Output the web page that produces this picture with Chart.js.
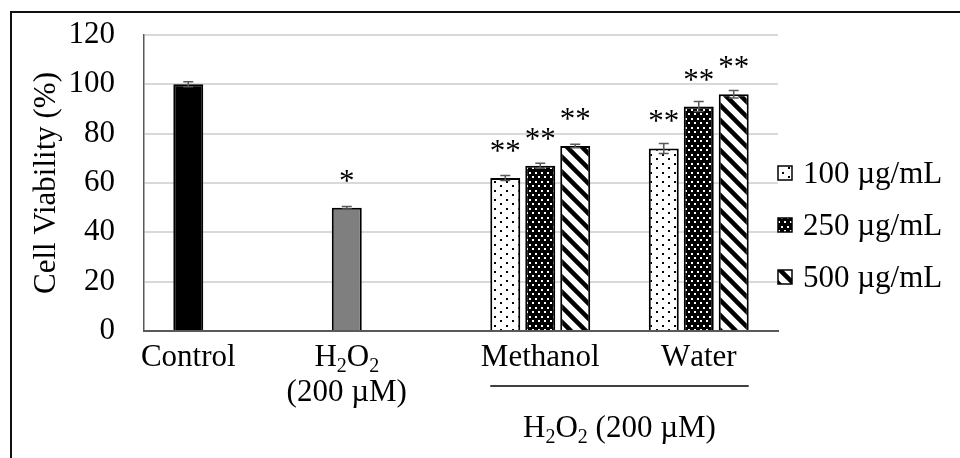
<!DOCTYPE html>
<html>
<head>
<meta charset="utf-8">
<script src="https://cdn.jsdelivr.net/npm/chart.js@4"></script>
<style>
  html, body { margin: 0; padding: 0; background: #fff; }
  #wrap { width: 960px; height: 458px; position: relative; }
</style>
</head>
<body>
<div id="wrap"><canvas id="viability-chart"></canvas></div>
<script>
// Cell viability chart

const categories = ["Control", ["H₂O₂", "(200 µM)"], "Methanol", "Water"];
const groupLabel = "H₂O₂ (200 µM)";
const seriesNames = ["100 µg/mL", "250 µg/mL", "500 µg/mL"];
const values100 = [100, 50, 62, 74];
const values250 = [null, null, 67, 91];
const values500 = [null, null, 75, 96];
const errors100 = [1, 0.5, 1, 2];
const errors250 = [null, null, 1, 2];
const errors500 = [null, null, 0.7, 1.5];
const stars100 = ["", "*", "**", "**"];
const stars250 = ["", "", "**", "**"];
const stars500 = ["", "", "**", "**"];
const yTicks = [0, 20, 40, 60, 80, 100, 120];

const FONT = "'Liberation Serif', 'Times New Roman', serif";
const FSIZE = 31;

// Fill patterns
function makePattern(kind) {
    const c = document.createElement("canvas");
    const g = c.getContext("2d");
    if (kind === "lightDots") {
        c.width = 12; c.height = 9;
        g.fillStyle = "#fff"; g.fillRect(0, 0, 12, 9);
        g.fillStyle = "#000";
        g.fillRect(2, 1, 2, 2); g.fillRect(8, 5, 2, 2);
    } else if (kind === "darkDots") {
        c.width = 6; c.height = 9;
        g.fillStyle = "#000"; g.fillRect(0, 0, 6, 9);
        g.fillStyle = "#fff";
        g.fillRect(1, 1, 2, 2); g.fillRect(4, 5, 2, 2);
    } else {
        c.width = 15; c.height = 15;
        g.fillStyle = "#fff"; g.fillRect(0, 0, 15, 15);
        g.strokeStyle = "#000"; g.lineWidth = 4.5;
        for (let k = -1; k <= 1; k++) {
            g.beginPath();
            g.moveTo(-2, k * 15 - 2);
            g.lineTo(17, 17 + k * 15);
            g.stroke();
        }
    }
    return g.createPattern(c, "repeat");
}

const ctx = document.getElementById("viability-chart").getContext("2d");
const patterns = [makePattern("lightDots"), makePattern("darkDots"), makePattern("stripes")];
const errorSets = [errors100, errors250, errors500];
const starSets = [stars100, stars250, stars500];

// draws text where ₀-₉ become lowered small digits
function drawRich(c, text, cx, y, size) {
    const parts = [];
    for (const ch of text) {
        const code = ch.charCodeAt(0);
        if (code >= 0x2080 && code <= 0x2089) parts.push({ t: String(code - 0x2080), sub: true });
        else parts.push({ t: ch, sub: false });
    }
    let total = 0;
    parts.forEach((p) => {
        c.font = (p.sub ? Math.round(size * 0.65) : size) + "px " + FONT;
        p.w = c.measureText(p.t).width;
        total += p.w;
    });
    let x = cx - total / 2;
    c.textAlign = "left";
    c.textBaseline = "alphabetic";
    parts.forEach((p) => {
        c.font = (p.sub ? Math.round(size * 0.65) : size) + "px " + FONT;
        c.fillText(p.t, x, p.sub ? y + 6 : y);
        x += p.w;
    });
}

const annotate = {
    id: "annotate",
    beforeDraw(chart) {
        const c = chart.ctx;
        c.save();
        c.strokeStyle = "#111";
        c.lineWidth = 2;
        c.beginPath();
        c.moveTo(11, 458);
        c.lineTo(11, 12);
        c.lineTo(960, 12);
        c.stroke();
        c.restore();
    },
    afterDatasetsDraw(chart) {
        const c = chart.ctx;
        const y = chart.scales.y;
        c.save();
        chart.data.datasets.forEach((ds, i) => {
            const meta = chart.getDatasetMeta(i);
            meta.data.forEach((bar, j) => {
                const v = ds.data[j];
                if (v === null) return;
                const err = errorSets[i][j];
                if (err) {
                    const yHi = y.getPixelForValue(v + err);
                    const yLo = y.getPixelForValue(v - err);
                    c.strokeStyle = "#595959";
                    c.lineWidth = 1.5;
                    c.beginPath();
                    c.moveTo(bar.x, yHi); c.lineTo(bar.x, yLo);
                    c.moveTo(bar.x - 5, yHi); c.lineTo(bar.x + 5, yHi);
                    c.moveTo(bar.x - 5, yLo); c.lineTo(bar.x + 5, yLo);
                    c.stroke();
                }
                const s = starSets[i][j];
                if (s) {
                    c.fillStyle = "#000";
                    c.font = FSIZE + "px " + FONT;
                    c.textAlign = "center";
                    c.textBaseline = "alphabetic";
                    c.fillText(s, bar.x, bar.y - 17);
                }
            });
        });
        c.restore();
    },
    afterDraw(chart) {
        const c = chart.ctx;
        const area = chart.chartArea;
        c.save();
        c.fillStyle = "#000";
        // category labels under the bars that carry values
        const centers = categories.map((lab, j) => {
            const xs = [];
            chart.data.datasets.forEach((ds, i) => {
                if (ds.data[j] !== null) xs.push(chart.getDatasetMeta(i).data[j].x);
            });
            return { lo: Math.min(...xs), hi: Math.max(...xs) };
        });
        categories.forEach((lab, j) => {
            const lines = Array.isArray(lab) ? lab : [lab];
            const cx = (centers[j].lo + centers[j].hi) / 2;
            lines.forEach((line, k) => drawRich(c, line, cx, area.bottom + 35 + k * 35, FSIZE));
        });
        // bracket line under the extract groups
        const x0 = centers[2].lo - 15, x1 = centers[3].hi + 15;
        c.strokeStyle = "#000";
        c.lineWidth = 1.5;
        c.beginPath();
        c.moveTo(x0, area.bottom + 55);
        c.lineTo(x1, area.bottom + 55);
        c.stroke();
        drawRich(c, groupLabel, (x0 + x1) / 2, area.bottom + 106, FSIZE);
        // legend
        seriesNames.forEach((name, i) => {
            const cy = area.top + 138 + 52 * i;
            const lx = area.right;
            c.fillStyle = patterns[i];
            c.fillRect(lx, cy - 7, 14, 14);
            c.strokeStyle = "#000";
            c.lineWidth = 1.5;
            c.strokeRect(lx, cy - 7, 14, 14);
            c.fillStyle = "#000";
            c.font = FSIZE + "px " + FONT;
            c.textAlign = "left";
            c.textBaseline = "alphabetic";
            c.fillText(name, lx + 25, cy + 10);
        });
        c.restore();
    }
};

new Chart(ctx, {
    type: "bar",
    data: {
        labels: categories,
        datasets: [
            {
                label: seriesNames[0],
                data: values100,
                backgroundColor: ["#000", "#7f7f7f", patterns[0], patterns[0]],
                borderColor: "#000",
                borderWidth: 2,
            },
            {
                label: seriesNames[1],
                data: values250,
                backgroundColor: patterns[1],
                borderColor: "#000",
                borderWidth: 2,
            },
            {
                label: seriesNames[2],
                data: values500,
                backgroundColor: patterns[2],
                borderColor: "#000",
                borderWidth: 2,
            },
        ],
    },
    options: {
        responsive: true,
        maintainAspectRatio: false,
        animation: false,
        categoryPercentage: 0.662,
        barPercentage: 0.857,
        layout: { padding: { left: 0, top: 35, right: 182, bottom: 127 } },
        plugins: { legend: { display: false }, tooltip: { enabled: false } },
        scales: {
            x: {
                grid: { display: false },
                border: { display: true, color: "#595959", width: 2 },
                ticks: { display: false },
                afterFit: (s) => { s.height = 0; },
            },
            y: {
                min: 0,
                max: 120,
                afterBuildTicks: (s) => { s.ticks = yTicks.map((v) => ({ value: v })); },
                ticks: { color: "#000", padding: 29, font: { family: FONT, size: FSIZE } },
                grid: { color: "#d9d9d9", lineWidth: 2, drawTicks: false },
                border: { display: true, color: "#595959", width: 1.5 },
                title: {
                    display: true,
                    text: "Cell Viability (%)",
                    color: "#000",
                    font: { family: FONT, size: FSIZE },
                    padding: { top: 28, bottom: 0 },
                },
                afterFit: (s) => {
                    s.width = 144;
                    s.paddingTop = 0;
                    s.paddingBottom = 0;
                },
            },
        },
    },
    plugins: [annotate],
});
</script>
</body>
</html>
